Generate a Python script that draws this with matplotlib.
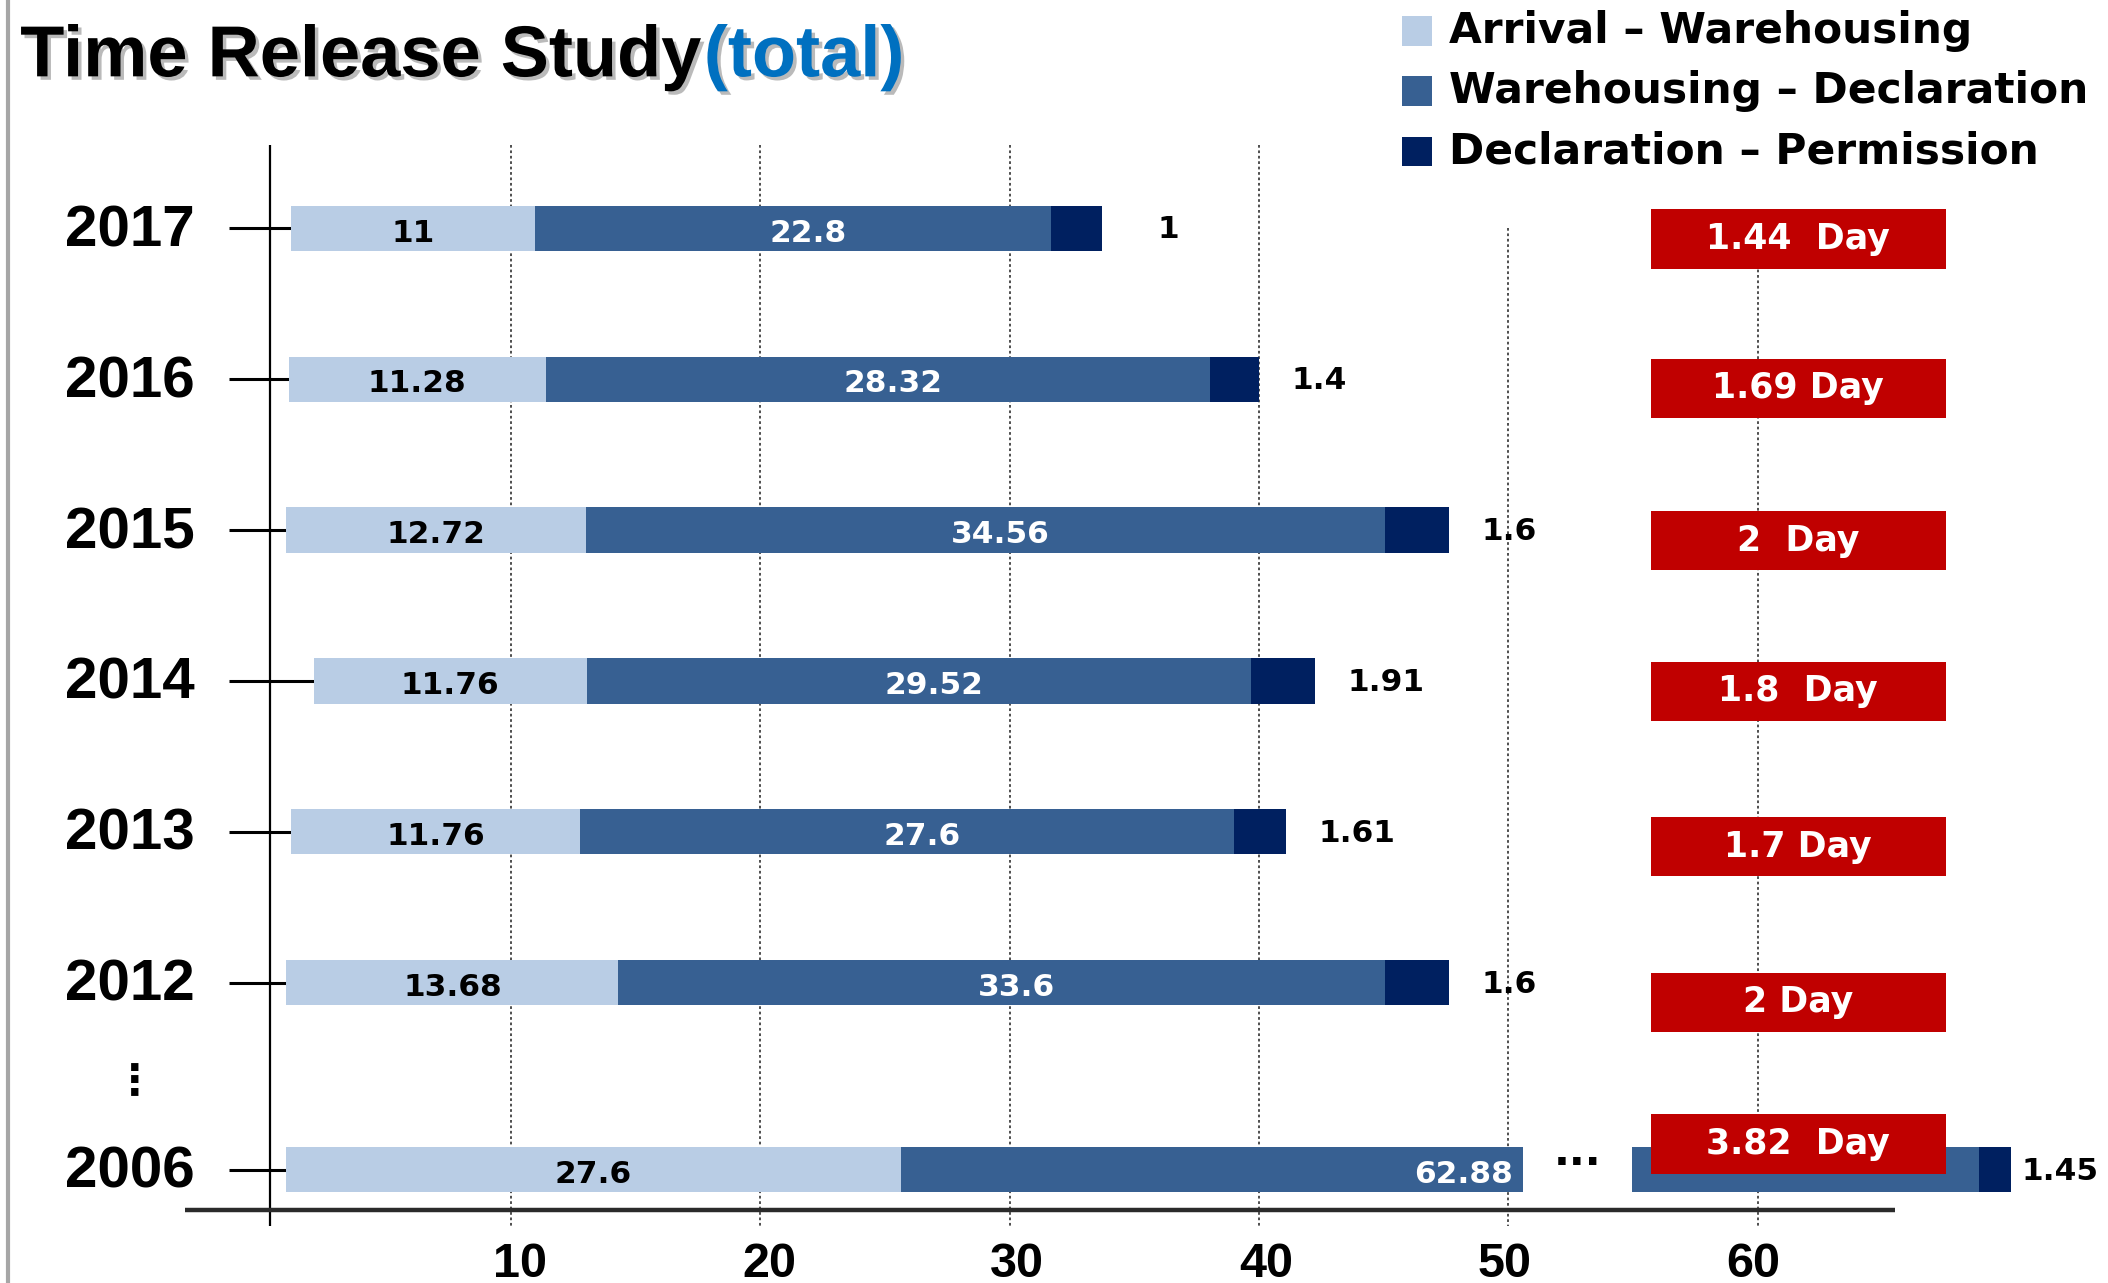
import matplotlib
matplotlib.use("Agg")
import matplotlib.pyplot as plt
import matplotlib.patheffects as pe
from matplotlib.patches import Rectangle
from matplotlib.lines import Line2D

# values written on the chart
years = ['2017', '2016', '2015', '2014', '2013', '2012', '2006']
arrival_wh = [11, 11.28, 12.72, 11.76, 11.76, 13.68, 27.6]
wh_decl = [22.8, 28.32, 34.56, 29.52, 27.6, 33.6, 62.88]
decl_perm = [1, 1.4, 1.6, 1.91, 1.61, 1.6, 1.45]
total_days = ['1.44  Day', '1.69 Day', '2  Day', '1.8  Day', '1.7 Day', '2 Day', '3.82  Day']

# bar segments as drawn in the picture (x-axis units) - the chart is not to scale
bar_start = [1.2, 1.1, 1.0, 2.1, 1.2, 1.0, 1.0]
len_light = [9.76, 10.29, 12.02, 10.94, 11.59, 13.31, 24.63]
len_mid = [20.70, 26.63, 32.02, 26.63, 26.20, 30.73, 38.87]
len_dark = [2.05, 1.99, 2.59, 2.59, 2.11, 2.59, 1.29]

legend_labels = ['Arrival \u2013 Warehousing', 'Warehousing \u2013 Declaration', 'Declaration \u2013 Permission']
xticks = [10, 20, 30, 40, 50, 60]

c_light = '#B9CDE5'
c_mid = '#376092'
c_dark = '#002060'
c_red = '#C00000'
c_blue = '#0070C0'

ARIAL = ['Liberation Sans', 'DejaVu Sans']
DEJA = ['DejaVu Sans']

fig = plt.figure(figsize=(21.08, 12.83), dpi=100)
ax = fig.add_axes([0, 0, 1, 1])
ax.set_xlim(-10.485, 74.04)
ax.set_ylim(6.992, -1.515)
ax.axis('off')

ypos = [0, 1, 2, 3, 4, 5, 6.24]
bar_h = 0.30
mid_break = 24.96   # where the 2006 bar is cut
break_gap = 4.37

# y axis, grid, x axis
ax.vlines(0.35, -0.553, 6.613, color='black', lw=1.6, zorder=2)
grid_top = [-0.553, -0.553, -0.553, -0.553, 0.0, -0.125]
tick_nudge = [0.35, 0.35, 0.3, 0.3, -0.15, -0.2]
for t, top, dx in zip(xticks, grid_top, tick_nudge):
    ax.vlines(t, top, 6.613, color='#404040', lw=1.3, linestyles=(0, (1.5, 1.5)), zorder=1)
    ax.text(t + dx, 6.87, str(t), ha='center', va='center', fontsize=35,
            fontweight='bold', family=ARIAL)
ax.hlines(6.506, -3.05, 65.5, color='#2b2b2b', lw=3.2, zorder=2)

for i, yr in enumerate(years):
    y = ypos[i]
    x0 = bar_start[i]
    ax.text(-2.67, y + 0.02, yr, ha='right', va='center', fontsize=42,
            fontweight='bold', family=ARIAL)
    ax.hlines(y, -1.32, x0, color='black', lw=2.2, zorder=2)

    ax.barh(y, len_light[i], left=x0, height=bar_h, color=c_light, zorder=3)
    x1 = x0 + len_light[i]
    ax.text(x0 + len_light[i] / 2, y + 0.03, f'{arrival_wh[i]:g}', ha='center', va='center',
            fontsize=22.5, fontweight='bold', family=DEJA, color='black', zorder=5)

    if i == len(years) - 1:
        ax.barh(y, mid_break, left=x1, height=bar_h, color=c_mid, zorder=3)
        ax.text(x1 + mid_break - 0.4, y + 0.03, f'{wh_decl[i]:g}', ha='right', va='center',
                fontsize=22.5, fontweight='bold', family=DEJA, color='white', zorder=5)
        ax.text(x1 + mid_break + break_gap / 2, y - 0.04, '\u00b7\u00b7\u00b7', ha='center',
                va='center', fontsize=30, fontweight='bold', family=DEJA)
        x2s = x1 + mid_break + break_gap
        ax.barh(y, len_mid[i] - mid_break, left=x2s, height=bar_h, color=c_mid, zorder=3)
        x2 = x2s + len_mid[i] - mid_break
        gap = 0.4
    else:
        ax.barh(y, len_mid[i], left=x1, height=bar_h, color=c_mid, zorder=3)
        ax.text(x1 + len_mid[i] / 2 + 0.6, y + 0.03, f'{wh_decl[i]:g}', ha='center', va='center',
                fontsize=22.5, fontweight='bold', family=DEJA, color='white', zorder=5)
        x2 = x1 + len_mid[i]
        gap = 2.2 if i == 0 else 1.3
    ax.barh(y, len_dark[i], left=x2, height=bar_h, color=c_dark, zorder=3)
    ax.text(x2 + len_dark[i] + gap, y + 0.01, f'{decl_perm[i]:g}', ha='left', va='center',
            fontsize=22.5, fontweight='bold', family=DEJA, color='black')

# red "total days" boxes
box_shift = [0.07, 0.06, 0.07, 0.07, 0.1, 0.13, -0.17]
for i, lab in enumerate(total_days):
    yc = ypos[i] + box_shift[i]
    ax.add_patch(Rectangle((55.7, yc - 0.196), 11.86, 0.392, facecolor=c_red,
                           edgecolor='none', zorder=6))
    ax.text(61.6, yc, lab, ha='center', va='center', fontsize=25, fontweight='bold',
            family=DEJA, color='white', zorder=7)

# vertical ellipsis between 2012 and 2006
ax.text(-5.1, 5.66, '\u22ee', ha='center', va='center', fontsize=30,
        fontweight='bold', family=DEJA)

# left border line
fig.add_artist(Line2D([0.0038, 0.0038], [0, 1], color='#A6A6A6', lw=3,
                      transform=fig.transFigure))

# title
shadow = [pe.withSimplePatchShadow(offset=(2.5, -2.5), shadow_rgbFace='#777777', alpha=0.5)]
t1 = fig.text(0.0096, 0.9405, 'Time Release Study', fontsize=52, fontweight='bold',
              family=ARIAL, va='baseline', path_effects=shadow)
fig.canvas.draw()
bb = t1.get_window_extent()
fig.text(bb.x1 / fig.bbox.width + 0.001, 0.9405, '(total)', fontsize=52, fontweight='bold',
         family=ARIAL, va='baseline', color=c_blue, path_effects=shadow)

# legend
legend_y = [0.976, 0.929, 0.882]
for lab, col, ly in zip(legend_labels, [c_light, c_mid, c_dark], legend_y):
    fig.add_artist(Rectangle((0.6652, ly - 0.0115), 0.014, 0.023, facecolor=col,
                             edgecolor='none', transform=fig.transFigure))
    fig.text(0.6875, ly, lab, fontsize=30.5, fontweight='bold', family=DEJA,
             va='center', ha='left')

fig.savefig('out.png', dpi=100)
